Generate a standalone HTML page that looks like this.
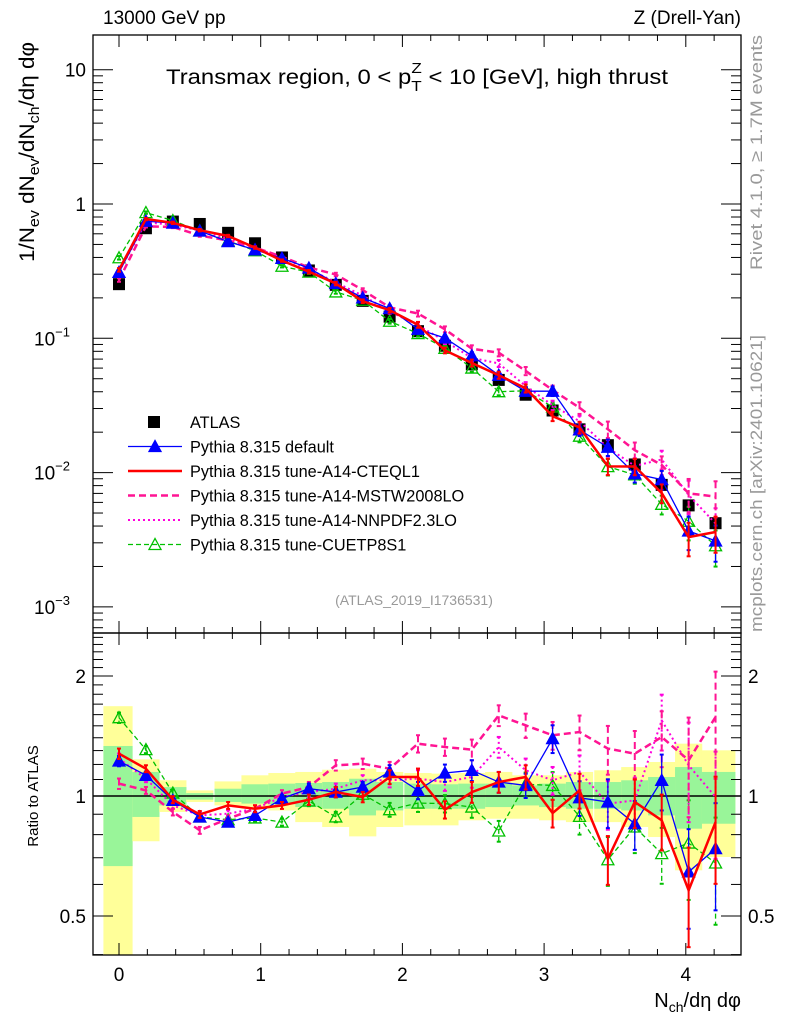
<!DOCTYPE html>
<html><head><meta charset="utf-8"><style>
html,body{margin:0;padding:0;background:#fff;}
svg{display:block;font-family:"Liberation Sans",sans-serif;}
</style></head><body>
<svg id="c" width="786" height="1024" viewBox="0 0 786 1024" xmlns="http://www.w3.org/2000/svg">
<g id="bands"></g>
<line x1="93" y1="796" x2="741" y2="796" stroke="#000" stroke-width="1.5"/>
<g id="series"></g>
<g id="axes"></g>
<text x="103" y="24" font-size="19">13000 GeV pp</text>
<text x="741" y="24" font-size="19" text-anchor="end">Z (Drell-Yan)</text>
<text x="166" y="84" font-size="21" textLength="502" lengthAdjust="spacingAndGlyphs">Transmax region, 0 &lt; p<tspan font-size="15" dy="7">T</tspan><tspan font-size="15" dx="-9" dy="-18">Z</tspan><tspan dy="11"> &lt; 10 [GeV], high thrust</tspan></text>
<text transform="translate(762,270) rotate(-90)" font-size="17" fill="#999" textLength="235" lengthAdjust="spacingAndGlyphs">Rivet 4.1.0, ≥ 1.7M events</text>
<text transform="translate(762,632) rotate(-90)" font-size="17" fill="#999" textLength="297" lengthAdjust="spacingAndGlyphs">mcplots.cern.ch [arXiv:2401.10621]</text>
<text x="414" y="605" font-size="14" fill="#999" text-anchor="middle">(ATLAS_2019_I1736531)</text>
<text transform="translate(34,262) rotate(-90)" font-size="21" textLength="220" lengthAdjust="spacingAndGlyphs">1/N<tspan font-size="15" dy="5">ev</tspan><tspan dy="-5"> dN</tspan><tspan font-size="15" dy="5">ev</tspan><tspan dy="-5">/dN</tspan><tspan font-size="15" dy="5">ch</tspan><tspan dy="-5">/dη dφ</tspan></text>
<text transform="translate(38,796) rotate(-90)" font-size="15" text-anchor="middle">Ratio to ATLAS</text>
<text x="741" y="1007" font-size="20" text-anchor="end">N<tspan font-size="14" dy="5">ch</tspan><tspan dy="-5">/dη dφ</tspan></text>
<g id="legend"></g>
</svg>
<script>
const xs = [0,0.19,0.38,0.57,0.77,0.96,1.15,1.34,1.53,1.72,1.91,2.11,2.30,2.49,2.68,2.87,3.06,3.25,3.45,3.64,3.83,4.02,4.21];
const atlas = [0.253,0.66,0.74,0.71,0.61,0.51,0.40,0.32,0.25,0.19,0.145,0.113,0.088,0.064,0.049,0.038,0.029,0.021,0.016,0.0115,0.0081,0.0057,0.0042];
const rDefault = [1.224,1.127,0.975,0.886,0.86,0.894,0.985,1.043,1.023,1.053,1.149,1.033,1.142,1.16,1.084,1.063,1.393,0.99,0.966,0.852,1.095,0.645,0.738];
const rCTEQ = [1.277,1.171,0.979,0.899,0.947,0.929,0.947,0.979,1.023,0.994,1.116,1.116,0.924,1.023,1.084,1.116,0.906,1.033,0.696,0.966,0.869,0.58,0.86];
const rMSTW = [1.074,1.033,0.912,0.82,0.877,0.929,1.014,1.053,1.194,1.205,1.171,1.353,1.327,1.307,1.593,1.504,1.42,1.447,1.315,1.277,1.406,1.229,1.578];
const rNNPDF = [1.241,1.105,0.947,0.894,0.903,0.929,0.994,1.023,1.043,1.095,1.095,1.105,1.084,1.116,1.327,1.16,1.095,1.149,0.957,0.975,1.548,1.194,0.994];
const rCUETP = [1.572,1.307,1.017,0.886,0.872,0.881,0.86,0.972,0.886,1.01,0.924,0.96,0.957,0.938,0.817,1.07,1.063,0.889,0.692,0.836,0.717,0.762,0.679];
const mcRelErr = [0.03,0.02,0.02,0.02,0.02,0.02,0.02,0.03,0.03,0.03,0.04,0.05,0.05,0.06,0.06,0.07,0.08,0.1,0.14,0.14,0.16,0.28,0.3];
const bandYelUp = [1.68,1.236,1.095,1.033,1.088,1.127,1.142,1.149,1.164,1.171,1.149,1.142,1.138,1.142,1.149,1.127,1.127,1.149,1.16,1.182,1.217,1.353,1.302];
const bandYelDn = [0.30,0.77,0.912,0.966,0.947,0.929,0.92,0.86,0.836,0.792,0.836,0.844,0.844,0.869,0.877,0.877,0.869,0.86,0.86,0.836,0.789,0.651,0.703];
const bandGrnUp = [1.335,1.149,1.053,1.017,1.043,1.07,1.074,1.078,1.084,1.105,1.084,1.074,1.07,1.074,1.074,1.063,1.074,1.084,1.084,1.095,1.116,1.182,1.149];
const bandGrnDn = [0.667,0.886,0.947,0.979,0.966,0.957,0.953,0.938,0.929,0.894,0.92,0.929,0.929,0.929,0.938,0.947,0.938,0.929,0.929,0.92,0.894,0.828,0.852];
const xTicks = [0,1,2,3,4];
const ratioTicks = [0.5,1,2];

const L=93,R=741,T=35,MB=633,RB=955;
const X=v=>119+v*141.7;
const Y=v=>204-134.3*Math.log10(v);
const YR=v=>796-398.6*Math.log10(v);
const NS="http://www.w3.org/2000/svg";
function mk(parent,tag,attrs){const e=document.createElementNS(NS,tag);for(const k in attrs)e.setAttribute(k,attrs[k]);parent.appendChild(e);return e;}
const svg=document.getElementById('c');
const defs=mk(svg,'defs',{});
const cp1=mk(defs,'clipPath',{id:'cm'});mk(cp1,'rect',{x:L,y:T,width:R-L,height:MB-T});
const cp2=mk(defs,'clipPath',{id:'cr'});mk(cp2,'rect',{x:L,y:MB,width:R-L,height:RB-MB});

const bg=document.getElementById('bands');bg.setAttribute('clip-path','url(#cr)');
xs.forEach((x,i)=>{
  const x0=X(i===0?-0.11:x-0.096), x1=X(i===xs.length-1?x+0.14:x+0.096);
  let r=mk(bg,'rect',{x:x0,y:YR(bandYelUp[i]),width:x1-x0,height:YR(bandYelDn[i])-YR(bandYelUp[i]),fill:'#ffff99'});
  
  
  r=mk(bg,'rect',{x:x0,y:YR(bandGrnUp[i]),width:x1-x0,height:YR(bandGrnDn[i])-YR(bandGrnUp[i]),fill:'#99f599'});
  
  
});

const series=[
 {name:'cuetp8s1',r:rCUETP,color:'#00c000',w:1.3,dash:'5,3',marker:'open'},
 {name:'nnpdf',r:rNNPDF,color:'#ff00dd',w:2,dash:'2,3',marker:null},
 {name:'mstw',r:rMSTW,color:'#ff1493',w:2.5,dash:'7,4',marker:null},
 {name:'default',r:rDefault,color:'#0000ff',w:1.3,dash:null,marker:'filled'},
 {name:'cteql1',r:rCTEQ,color:'#ff0000',w:2.5,dash:null,marker:null},
];
const sg=document.getElementById('series');
function tri(g,cx,cy,c,filled){
  const p=mk(g,'polygon',{points:`${cx},${cy-6} ${cx-6},${cy+5} ${cx+6},${cy+5}`,fill:filled?c:'none',stroke:c,'stroke-width':1.3});
  
  
}
function drawPanel(clip,yf,valf,withAtlas){
  const g=mk(sg,'g',{'clip-path':clip});
  if(withAtlas){
    atlas.forEach((v,i)=>{
      const r=mk(g,'rect',{x:X(xs[i])-6,y:Y(v)-6,width:12,height:12,fill:'#000'});
      
      
    });
  }
  series.forEach(s=>{
    const sgp=mk(g,'g',{});
    
    
    const pts=xs.map((x,i)=>[X(x),yf(valf(s,i))]);
    const a={points:pts.map(p=>p.join(',')).join(' '),fill:'none',stroke:s.color,'stroke-width':s.w};
    if(s.dash)a['stroke-dasharray']=s.dash;
    const pl=mk(sgp,'polyline',a);
    
    
    xs.forEach((x,i)=>{
      const v=valf(s,i),e=mcRelErr[i];
      const y1=yf(v*(1+e)),y2=yf(Math.max(v*(1-e),1e-6));
      const ea={x1:X(x),x2:X(x),y1:y1,y2:y2,stroke:s.color,'stroke-width':Math.min(s.w,2)};
      if(s.dash)ea['stroke-dasharray']=s.dash;
      const el=mk(sgp,'line',ea);
      
      
      mk(sgp,'line',{x1:X(x)-2,x2:X(x)+2,y1:y1,y2:y1,stroke:s.color,'stroke-width':2});
      mk(sgp,'line',{x1:X(x)-2,x2:X(x)+2,y1:y2,y2:y2,stroke:s.color,'stroke-width':2});
      if(s.marker)tri(sgp,X(x),yf(v),s.color,s.marker==='filled');
    });
  });
}
drawPanel('url(#cm)',Y,(s,i)=>atlas[i]*s.r[i],true);
drawPanel('url(#cr)',YR,(s,i)=>s.r[i],false);

const ax=document.getElementById('axes');
function frame(y0,y1,nm){const r=mk(ax,'rect',{x:L,y:y0,width:R-L,height:y1-y0,fill:'none',stroke:'#000','stroke-width':1.3});}
frame(T,MB,'main-frame');frame(MB,RB,'ratio-frame');
function ln(x1,y1,x2,y2){mk(ax,'line',{x1,y1,x2,y2,stroke:'#000','stroke-width':1});}
for(let k=-0.2;k<=4.41;k+=0.2){
  const v=Math.round(k*10)/10,x=X(v);if(x<L||x>R)continue;
  const maj=Math.abs(v-Math.round(v))<1e-6,len=maj?12:6;
  [[T,1],[MB,-1],[MB,1],[RB,-1]].forEach(([y,d])=>ln(x,y,x,y+d*len));
}
xTicks.forEach(v=>{const t=mk(ax,'text',{x:X(v),y:981,'font-size':19,'text-anchor':'middle'});t.textContent=v;});
for(let d=-4;d<=1;d++){for(let m=1;m<10;m++){const v=m*Math.pow(10,d),y=Y(v);if(y<T||y>MB)continue;const len=m===1?20:10;ln(L,y,L+len,y);ln(R,y,R-len,y);}}
const mainLabs=[[10,'10',null],[1,'1',null],[0.1,'10','−1'],[0.01,'10','−2'],[0.001,'10','−3']];
mainLabs.forEach(([v,b,e])=>{const t=mk(ax,'text',{x:e?70:86,y:Y(v)+7,'font-size':19,'text-anchor':'end'});t.textContent=b;
  if(e){const s=mk(t,'tspan',{'font-size':13,dy:-9});s.textContent=e;}
  });
for(let v=0.4;v<=2.55;v+=0.1){const r=Math.round(v*10)/10,y=YR(r);if(y<MB||y>RB)continue;const maj=ratioTicks.includes(r),len=maj?20:10;ln(L,y,L+len,y);ln(R,y,R-len,y);}
ratioTicks.forEach(v=>{
  let t=mk(ax,'text',{x:86,y:YR(v)+7,'font-size':19,'text-anchor':'end'});t.textContent=v;
  t=mk(ax,'text',{x:748,y:YR(v)+7,'font-size':19});t.textContent=v;
});

const lg=document.getElementById('legend');
const leg=[['ATLAS','atlas'],['Pythia 8.315 default','default'],['Pythia 8.315 tune-A14-CTEQL1','cteql1'],['Pythia 8.315 tune-A14-MSTW2008LO','mstw'],['Pythia 8.315 tune-A14-NNPDF2.3LO','nnpdf'],['Pythia 8.315 tune-CUETP8S1','cuetp8s1']];
leg.forEach(([lab,key],i)=>{
  const y=422+i*24.5;
  const g=mk(lg,'g',{});
  
  
  if(key==='atlas'){mk(g,'rect',{x:148,y:y-6,width:12,height:12,fill:'#000'});}
  else{const s=series.find(q=>q.name===key);const a={x1:128,x2:182,y1:y,y2:y,stroke:s.color,'stroke-width':s.w};if(s.dash)a['stroke-dasharray']=s.dash;mk(g,'line',a);if(s.marker)tri(g,155,y,s.color,s.marker==='filled');}
  const t=mk(g,'text',{x:190,y:y+6,'font-size':16.3});t.textContent=lab;
});
</script>
</body></html>
